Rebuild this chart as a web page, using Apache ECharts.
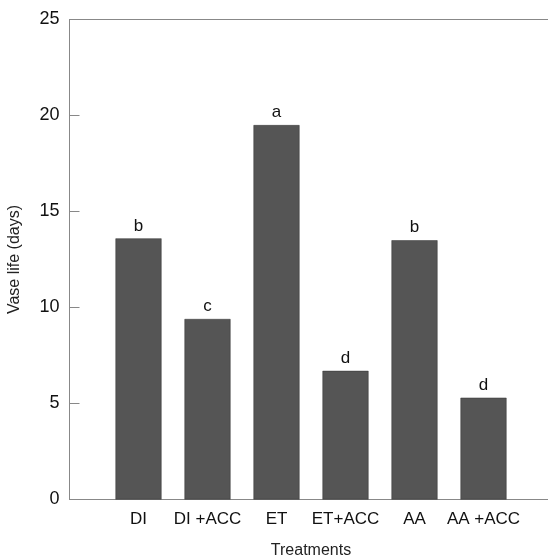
<!DOCTYPE html>
<html><head><meta charset="utf-8">
<script src="https://cdn.jsdelivr.net/npm/echarts@6/dist/echarts.min.js"></script>
<style>html,body{margin:0;padding:0;background:#fff}#c{width:548px;height:558px}</style>
</head><body><div id="c"></div>
<script>
const categories = ['', 'DI', 'DI +ACC', 'ET', 'ET+ACC', 'AA', 'AA +ACC', ''];
const values = [null, 13.6, 9.4, 19.5, 6.7, 13.5, 5.3, null];
const letters = ['', 'b', 'c', 'a', 'd', 'b', 'd', ''];
const yTicks = [0, 5, 10, 15, 20, 25];

const chart = echarts.init(document.getElementById('c'), null, {renderer: 'canvas'});
const font = 'Liberation Sans, Arial, sans-serif';
chart.setOption({
  animation: false,
  backgroundColor: '#fff',
  grid: {left: 69.5, top: 19.5, width: 483, height: 480, containLabel: false, outerBoundsMode: 'none'},
  xAxis: [{
    type: 'category', data: categories, boundaryGap: false,
    axisLine: {show: true, lineStyle: {color: '#888', width: 1}},
    axisTick: {show: false},
    axisLabel: {color: '#111', fontSize: 17, fontFamily: font, margin: 11, interval: 0},
    name: 'Treatments', nameLocation: 'middle', nameGap: 43,
    nameTextStyle: {color: '#222', fontSize: 16, fontFamily: font},
    splitLine: {show: false}
  }, {
    type: 'category', data: categories, boundaryGap: false, position: 'top',
    axisLine: {show: true, lineStyle: {color: '#888', width: 1}},
    axisTick: {show: false}, axisLabel: {show: false}, splitLine: {show: false}
  }],
  yAxis: {
    type: 'value', min: 0, max: 25, interval: 5,
    axisLine: {show: true, lineStyle: {color: '#888', width: 1}},
    axisTick: {show: true, inside: true, length: 10, lineStyle: {color: '#888'}},
    axisLabel: {color: '#111', fontSize: 18, fontFamily: font, margin: 10},
    splitLine: {show: false},
    name: 'Vase life (days)', nameLocation: 'middle', nameGap: 47,
    nameTextStyle: {color: '#222', fontSize: 16, fontFamily: font}
  },
  series: [{
    type: 'bar', data: values, barWidth: 46,
    itemStyle: {color: '#555555', borderColor: '#333', borderWidth: 0.5},
    label: {
      show: true, position: 'top', distance: 4,
      formatter: p => letters[p.dataIndex],
      color: '#111', fontSize: 17, fontFamily: font
    }
  }]
});
</script></body></html>
